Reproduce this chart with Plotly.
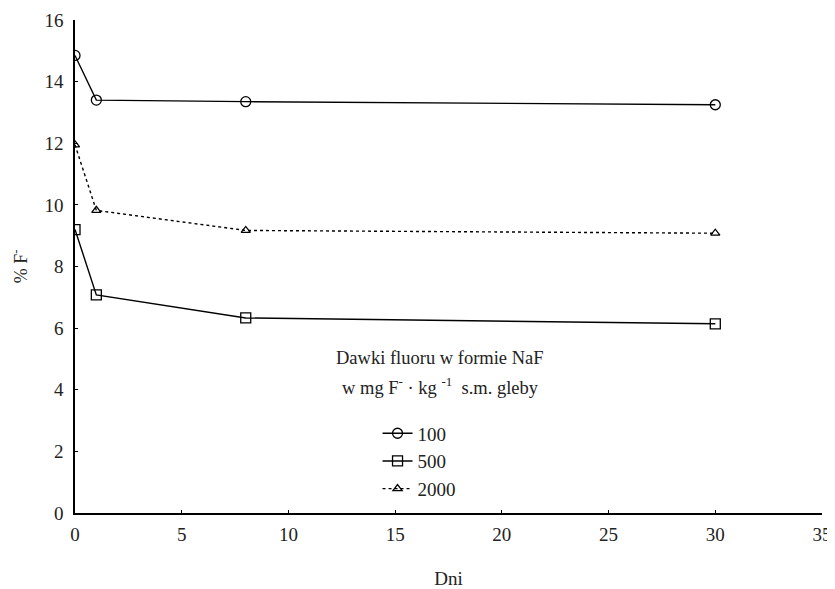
import plotly.graph_objects as go

days = [0, 1, 8, 30]
dose_labels = ["100", "500", "2000"]
f100 = [14.85, 13.4, 13.35, 13.25]
f500 = [9.2, 7.08, 6.33, 6.14]
f2000 = [11.95, 9.82, 9.17, 9.08]

x_ticks = [0, 5, 10, 15, 20, 25, 30, 35]
y_ticks = [0, 2, 4, 6, 8, 10, 12, 14, 16]

FONT = "Liberation Serif"

fig = go.Figure()
styles = [
    (f100, "circle-open", "solid"),
    (f500, "square-open", "solid"),
    (f2000, "triangle-up-open", "dot"),
]
for label, (vals, sym, dash) in zip(dose_labels, styles):
    fig.add_trace(go.Scatter(
        x=days, y=vals, name=label, mode="lines+markers",
        line=dict(color="black", width=1.4, dash=dash),
        marker=dict(symbol=sym, size=10 if sym != "triangle-up-open" else 8,
                    color="black", line=dict(color="black", width=1.3)),
    ))

fig.update_layout(
    width=827, height=581,
    margin=dict(l=67, r=13, t=12, b=76),
    paper_bgcolor="white", plot_bgcolor="white",
    font=dict(family=FONT, size=19, color="#222"),
    showlegend=True,
    legend=dict(x=0.405, y=0.2, xanchor="left", yanchor="top",
                bgcolor="rgba(0,0,0,0)", font=dict(family=FONT, size=19),
                itemwidth=30, tracegroupgap=0),
    xaxis=dict(range=[0, 35], tickvals=x_ticks, showgrid=False, zeroline=False,
               showline=True, linecolor="black", linewidth=1.5, automargin=False,
               ticks="inside", ticklen=3, tickcolor="black", ticklabeloverflow="allow",
               ticklabelstandoff=3,
               title=dict(text="Dni", font=dict(family=FONT, size=19), standoff=30)),
    yaxis=dict(range=[0, 16], tickvals=y_ticks, showgrid=False, zeroline=False,
               showline=True, linecolor="black", linewidth=1.5, automargin=False,
               ticks="inside", ticklen=3, tickcolor="black", ticklabeloverflow="allow",
               ticklabelstandoff=6,
               title=dict(text="% F<sup>-</sup>", font=dict(family=FONT, size=18), standoff=30)),
    annotations=[
        dict(text="Dawki fluoru w formie NaF",
             x=0.489, y=(513 - 358) / 493, xref="paper", yref="paper",
             xanchor="center", yanchor="middle", showarrow=False,
             font=dict(family=FONT, size=18.5, color="#222")),
        dict(text="w mg F<sup>-</sup> · kg <sup>-1</sup>  s.m. gleby",
             x=0.489, y=(513 - 386) / 493, xref="paper", yref="paper",
             xanchor="center", yanchor="middle", showarrow=False,
             font=dict(family=FONT, size=18.5, color="#222")),
    ],
)

fig.write_html("out.html")
